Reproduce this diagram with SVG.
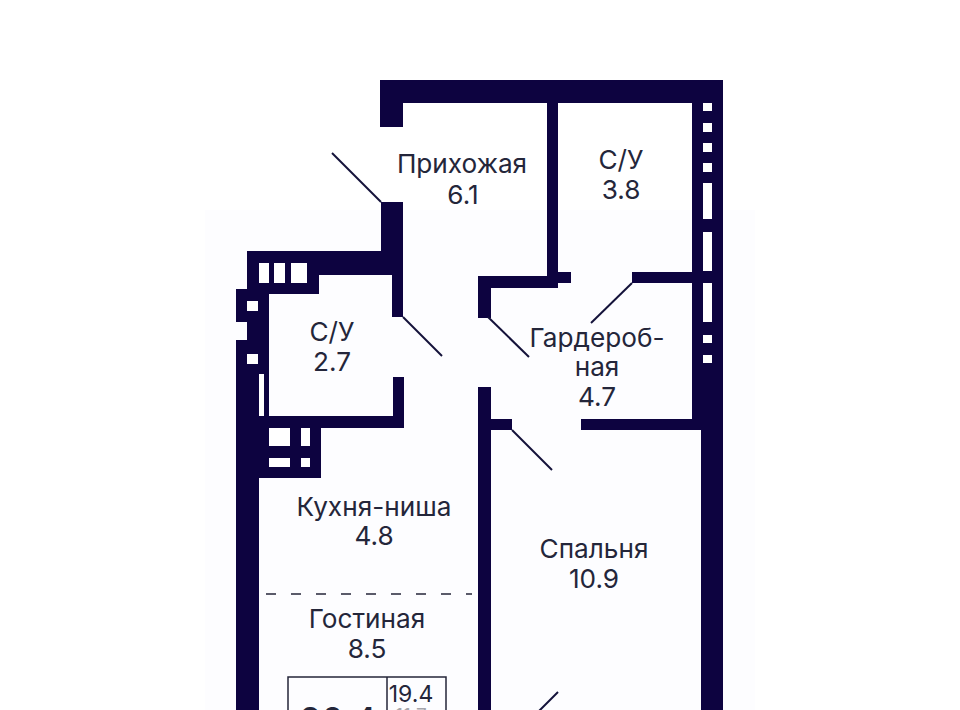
<svg xmlns="http://www.w3.org/2000/svg" width="960" height="710" viewBox="0 0 960 710">
<style>
.w{fill:#0d0340}
.o{fill:#fff}
.d{fill:none;stroke:#14123a;stroke-width:2}
text{font-family:"Inter","Liberation Sans",sans-serif;font-size:26.2px;fill:#24263a;text-anchor:middle}
</style>
<rect width="960" height="710" fill="#fff"/>
<rect x="205" y="210" width="550" height="500" fill="#fdfdff"/>
<g id="walls">
<path class="w" d="M380 80H723V710H701V430H581V419H692V283H632V272H692V103H558V272H571V283H558V288H491V318H478V276H547V103H403V127H380Z"/>
<path class="w" d="M381 202H403V317H392V275H319V294H269V416H393V377H404V428H321V478H259V710H236V340H247V322H236V289H247V251H381Z"/>
<path class="w" d="M478 387H491V419H512V430H491V710H478Z"/>
</g>
<g id="windows">
<rect class="o" x="703" y="103" width="9" height="8"/>
<rect class="o" x="703" y="123" width="9" height="9"/>
<rect class="o" x="703" y="143" width="9" height="9"/>
<rect class="o" x="703" y="163" width="9" height="9"/>
<rect class="o" x="703" y="183" width="9" height="36"/>
<rect class="o" x="703" y="232" width="9" height="39"/>
<rect class="o" x="703" y="283" width="9" height="39"/>
<rect class="o" x="703" y="335" width="9" height="8"/>
<rect class="o" x="703" y="355" width="9" height="8"/>
<rect class="o" x="259" y="263" width="10" height="20"/>
<rect class="o" x="274" y="263" width="11" height="20"/>
<rect class="o" x="291" y="263" width="16" height="20"/>
<rect class="o" x="247" y="301" width="11" height="10"/>
<rect class="o" x="247" y="354" width="11" height="10"/>
<rect class="o" x="259" y="374" width="5" height="42"/>
<rect class="o" x="269" y="428" width="21" height="18"/>
<rect class="o" x="301" y="428" width="9" height="18"/>
<rect class="o" x="269" y="458" width="21" height="9"/>
<rect class="o" x="301" y="458" width="9" height="9"/>
</g>
<g id="connectors">
<path class="d" d="M381 202L332 153"/>
<path class="d" d="M403 317L442 356"/>
<path class="d" d="M488 317L529 357"/>
<path class="d" d="M632 283L591 323"/>
<path class="d" d="M512 430L552 470"/>
<path class="d" d="M558 692L538 712"/>
<path d="M266 594H472" fill="none" stroke="#24263a" stroke-width="1.5" stroke-dasharray="10 15"/>
</g>
<g id="n1"><text x="462" y="173">Прихожая</text><text x="463" y="204">6.1</text></g>
<g id="n2"><text x="621" y="169">С/У</text><text x="621" y="199">3.8</text></g>
<g id="n3"><text x="332" y="341">С/У</text><text x="332" y="371">2.7</text></g>
<g id="n4"><text x="597" y="347">Гардероб-</text><text x="597" y="376">ная</text><text x="597" y="406">4.7</text></g>
<g id="n5"><text x="374" y="516">Кухня-ниша</text><text x="374" y="545">4.8</text></g>
<g id="n6"><text x="594" y="558">Спальня</text><text x="594" y="588">10.9</text></g>
<g id="n7"><text x="367" y="628">Гостиная</text><text x="367" y="658">8.5</text></g>
<g id="area">
<path d="M288 710V677H446V710M387 677V710" fill="none" stroke="#24263a" stroke-width="1.5"/>
<text x="411" y="702" style="font-size:23px">19.4</text>
<text x="411" y="722" style="font-size:19px;fill:#a5a5ac">11.7</text>
<text x="338" y="733" style="font-size:35px;font-weight:500">20.4</text>
</g>
</svg>
